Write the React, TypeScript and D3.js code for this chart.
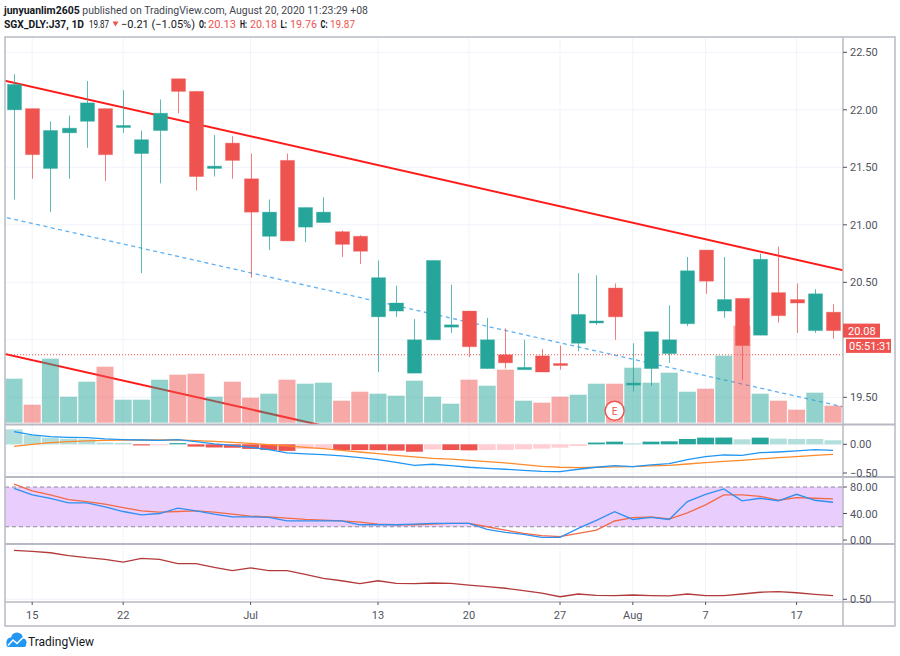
import React from 'react';
import * as d3 from 'd3';

// ---------- DATA ----------
const dates = [
  '2020-06-12', '2020-06-15', '2020-06-16', '2020-06-17', '2020-06-18', '2020-06-19',
  '2020-06-22', '2020-06-23', '2020-06-24', '2020-06-25', '2020-06-26', '2020-06-29',
  '2020-06-30', '2020-07-01', '2020-07-02', '2020-07-03', '2020-07-06', '2020-07-07',
  '2020-07-08', '2020-07-09', '2020-07-13', '2020-07-14', '2020-07-15', '2020-07-16',
  '2020-07-17', '2020-07-20', '2020-07-21', '2020-07-22', '2020-07-23', '2020-07-24',
  '2020-07-27', '2020-07-28', '2020-07-29', '2020-07-30', '2020-08-03', '2020-08-04',
  '2020-08-05', '2020-08-06', '2020-08-07', '2020-08-11', '2020-08-12', '2020-08-13',
  '2020-08-14', '2020-08-17', '2020-08-18', '2020-08-19',
];
const opens = [22.00, 22.01, 21.49, 21.80, 21.90, 22.01, 21.85, 21.62, 21.82, 22.27, 22.16, 21.49, 21.71, 21.40, 20.90, 21.56, 20.98, 21.02, 20.94, 20.90, 20.20, 20.25, 19.71, 20.00, 20.11, 20.25, 19.75, 19.87, 19.74, 19.86, 19.79, 19.97, 20.15, 20.45, 19.61, 19.75, 19.88, 20.14, 20.78, 20.25, 20.36, 20.04, 20.41, 20.35, 20.08, 20.24];
const highs = [22.31, 22.01, 21.90, 21.95, 22.25, 22.01, 22.17, 21.82, 22.09, 22.27, 22.16, 21.78, 21.77, 21.62, 21.22, 21.62, 21.15, 21.24, 20.95, 20.91, 20.69, 20.47, 20.18, 20.69, 20.48, 20.25, 20.19, 20.10, 20.00, 19.92, 19.95, 20.58, 20.56, 20.49, 19.97, 20.07, 20.30, 20.72, 20.78, 20.72, 20.36, 20.75, 20.81, 20.49, 20.44, 20.31];
const lows = [21.22, 21.40, 21.11, 21.40, 21.67, 21.38, 21.80, 20.58, 21.36, 21.97, 21.30, 21.42, 21.40, 20.54, 20.78, 20.86, 20.85, 21.02, 20.72, 20.66, 19.72, 20.20, 19.71, 20.00, 20.06, 19.85, 19.75, 19.75, 19.74, 19.72, 19.74, 19.90, 20.13, 20.00, 19.55, 19.60, 19.80, 20.12, 20.40, 20.19, 19.65, 20.04, 20.15, 20.06, 20.06, 20.01];
const closes = [22.22, 21.61, 21.82, 21.84, 22.06, 21.61, 21.86, 21.74, 21.97, 22.16, 21.42, 21.51, 21.56, 21.11, 21.11, 20.86, 21.15, 21.11, 20.83, 20.77, 20.54, 20.32, 20.00, 20.69, 20.13, 19.94, 20.00, 19.80, 19.76, 19.72, 19.78, 20.22, 20.16, 20.20, 19.62, 20.07, 20.00, 20.60, 20.51, 20.35, 19.95, 20.70, 20.21, 20.32, 20.40, 20.08];
const volumes = [4.4, 1.8, 6.4, 2.6, 4.1, 5.6, 2.3, 2.3, 4.3, 4.8, 4.9, 2.6, 4.1, 2.5, 2.9, 4.3, 3.9, 4.0, 2.2, 3.1, 2.9, 2.7, 4.2, 2.6, 1.9, 4.3, 3.7, 5.3, 2.2, 2.0, 2.6, 2.8, 3.9, 3.9, 5.5, 4.0, 5.0, 3.1, 3.4, 6.7, 9.7, 2.9, 2.2, 1.3, 3.0, 1.7];

const macdHist = [0.26, 0.16, 0.115, 0.098, 0.087, 0.03, 0.025, -0.02, -0.015, 0.02, -0.04, -0.055, -0.06, -0.08, -0.1, -0.115, -0.08, -0.075, -0.1, -0.101, -0.102, -0.11, -0.13, -0.09, -0.1, -0.105, -0.1, -0.098, -0.087, -0.075, -0.058, -0.03, 0.03, 0.046, 0.017, 0.046, 0.052, 0.093, 0.116, 0.118, 0.087, 0.116, 0.099, 0.093, 0.092, 0.07];
const macdLine = [0.22, 0.163, 0.134, 0.122, 0.116, 0.093, 0.081, 0.075, 0.07, 0.081, 0.046, 0.006, -0.017, -0.052, -0.093, -0.151, -0.168, -0.18, -0.203, -0.232, -0.267, -0.314, -0.366, -0.348, -0.372, -0.4, -0.418, -0.435, -0.453, -0.47, -0.476, -0.435, -0.4, -0.372, -0.389, -0.36, -0.337, -0.267, -0.215, -0.186, -0.192, -0.145, -0.134, -0.116, -0.093, -0.105];
const signalLine = [-0.035, 0, 0.029, 0.046, 0.058, 0.07, 0.075, 0.075, 0.075, 0.075, 0.064, 0.052, 0.035, 0.017, -0.006, -0.029, -0.052, -0.075, -0.105, -0.134, -0.163, -0.192, -0.22, -0.244, -0.26, -0.279, -0.302, -0.325, -0.354, -0.383, -0.4, -0.406, -0.4, -0.395, -0.389, -0.377, -0.366, -0.343, -0.32, -0.296, -0.279, -0.255, -0.232, -0.215, -0.192, -0.174];

const stochK = [78, 68, 63, 56, 56, 50, 43, 38, 40, 48, 44, 39, 35, 35, 34, 29, 29, 29, 29, 23, 23, 23, 24, 25, 25, 25, 16, 11.6, 8.6, 4, 4, 17.6, 29.7, 42.8, 31, 34, 31, 58, 69, 77, 59, 63, 59, 69, 60, 57];
const stochD = [84.5, 74, 68, 61, 58, 54, 49, 44, 42, 43, 44, 42, 39, 36, 35, 33, 31, 30, 29, 27, 24, 23, 23, 24, 25, 25, 20, 15, 10, 6.5, 5, 10, 15, 28.7, 33.7, 35, 31.7, 41, 53, 68, 68, 66, 60, 64, 63, 62];

const ratioLine = [0.806, 0.8, 0.791, 0.773, 0.76, 0.75, 0.733, 0.756, 0.75, 0.723, 0.723, 0.7, 0.679, 0.696, 0.679, 0.679, 0.656, 0.631, 0.616, 0.598, 0.616, 0.6, 0.598, 0.602, 0.6, 0.589, 0.579, 0.569, 0.554, 0.538, 0.516, 0.533, 0.525, 0.523, 0.527, 0.523, 0.521, 0.533, 0.523, 0.523, 0.533, 0.544, 0.548, 0.541, 0.531, 0.523];

const priceTicks = [19.5, 20.0, 20.5, 21.0, 21.5, 22.0, 22.5];
const macdTicks = [0, -0.5];
const stochTicks = [80, 40, 0];
const stochBands = [80, 20];
const ratioTicks = [0.5];
const timeTickDates = ['2020-06-15', '2020-06-22', '2020-07-01', '2020-07-13', '2020-07-20', '2020-07-27', '2020-08-03', '2020-08-07', '2020-08-17'];
const timeTickLabels = ['15', '22', 'Jul', '13', '20', '27', 'Aug', '7', '17'];

// trend line anchors: [bar index, price]
const upperTrend = [[-0.4, 22.25], [45.48, 20.607]];
const lowerTrend = [[-0.44, 19.874], [16.26, 19.279]];
const dashedTrend = [[-0.4, 21.062], [45.48, 19.42]];
const priceLine = 19.87;
const earningsIndex = 33;

// ---------- LAYOUT ----------
const W = 900, H = 656;
const L = 5, R = 843, FR = 895;
const mainTop = 37, mainBot = 424.5, macdBot = 477, rsiBot = 544, axisTop = 602, frameBot = 626;
const UP = '#26a69a', DOWN = '#ef5350';
const FONT = "'Trebuchet MS', Roboto, 'Noto Sans', Arial, sans-serif";
const AXIS_TXT = '#50535e';
const GRID = '#f0f3fa';
const BORDER = '#b7bac2';

const fmt = (v: number) => d3.format('.2f')(v).replace('-', '\u2212');

export default function App() {
  const n = dates.length;
  const x = d3.scaleLinear().domain([0, n - 1]).range([14, 833]);
  const y = d3.scaleLinear().domain([19.5, 22.5]).range([397.3, 52.3]);
  const yVol = d3.scaleLinear().domain([0, 10]).range([422.7, 322.7]);
  const yMacd = d3.scaleLinear().domain([-0.5, 0]).range([473, 444.3]);
  const yStoch = d3.scaleLinear().domain([0, 80]).range([540, 487]);
  const yRatio = d3.scaleLinear().domain([0.5, 0.8]).range([599.3, 551.3]);

  const idx = d3.range(n);
  const lineGen = (ys: d3.ScaleLinear<number, number>, vals: number[]) =>
    d3.line<number>().x((i) => x(i)).y((i) => ys(vals[i]))(idx) || '';

  const extend = (pts: number[][]) => {
    const [[i0, p0], [i1, p1]] = pts;
    const s = (p1 - p0) / (i1 - i0);
    const a = -2, b = n + 2;
    return { x1: x(a), y1: y(p0 + s * (a - i0)), x2: x(b), y2: y(p0 + s * (b - i0)) };
  };

  const bodyW = 14;
  const volW = 17;
  const lastClose = closes[n - 1];
  const lastY = y(lastClose);

  const histColor = (i: number) => {
    const v = macdHist[i];
    const prev = i > 0 ? macdHist[i - 1] : (v >= 0 ? Infinity : -Infinity);
    if (v >= 0) return prev < v ? '#26a69a' : '#b2dfdb';
    return prev < v ? '#ffcdd2' : '#ef5350';
  };

  const up = (i: number) => closes[i] >= opens[i];
  const timeX = timeTickDates.map((d) => x(dates.indexOf(d)));
  // price-axis labels hidden under the last-price / countdown boxes
  const visiblePriceTicks = priceTicks.filter((p) => Math.abs(y(p) - (lastY + 8)) > 16);

  const hdr = { fontSize: 11, lengthAdjust: 'spacingAndGlyphs' as const };

  return (
    <svg width={W} height={H} viewBox={`0 0 ${W} ${H}`}
      style={{ position: 'absolute', left: 0, top: 0, background: '#fff', fontFamily: FONT }}>
      <defs>
        <clipPath id="clipMain"><rect x={L} y={mainTop} width={R - L} height={mainBot - mainTop} /></clipPath>
        <clipPath id="clipMacd"><rect x={L} y={mainBot} width={R - L} height={macdBot - mainBot} /></clipPath>
        <clipPath id="clipRsi"><rect x={L} y={macdBot} width={R - L} height={rsiBot - macdBot} /></clipPath>
        <clipPath id="clipRatio"><rect x={L} y={rsiBot} width={R - L} height={axisTop - rsiBot} /></clipPath>
      </defs>
      <rect x={0} y={0} width={W} height={H} fill="#fff" />

      {/* Header */}
      <text x={4} y={14} fontSize={11.5} fill="#131722" textLength={364} lengthAdjust="spacingAndGlyphs">
        <tspan fontWeight="bold">junyuanlim2605</tspan>
        <tspan fill="#434651"> published on TradingView.com, August 20, 2020 11:23:29 +08</tspan>
      </text>
      <g>
        <text x={4} y={27.5} {...hdr} fontWeight="bold" fill="#131722" textLength={80}>SGX_DLY:J37, 1D</text>
        <text x={89} y={27.5} {...hdr} fill="#131722" textLength={20}>19.87</text>
        <path d="M112.5,21.5 L118.5,21.5 L115.5,26.5 Z" fill={DOWN} />
        <text x={121} y={27.5} {...hdr} fill="#131722" textLength={74}>{'\u22120.21 (\u22121.05%)'}</text>
        <text x={199} y={27.5} {...hdr} fontWeight="bold" fill="#131722" textLength={7}>O:</text>
        <text x={208} y={27.5} {...hdr} fill={DOWN} textLength={28}>20.13</text>
        <text x={240} y={27.5} {...hdr} fontWeight="bold" fill="#131722" textLength={7}>H:</text>
        <text x={250} y={27.5} {...hdr} fill={DOWN} textLength={27}>20.18</text>
        <text x={280.5} y={27.5} {...hdr} fontWeight="bold" fill="#131722" textLength={6.5}>L:</text>
        <text x={290} y={27.5} {...hdr} fill={DOWN} textLength={27}>19.76</text>
        <text x={320.5} y={27.5} {...hdr} fontWeight="bold" fill="#131722" textLength={7}>C:</text>
        <text x={330} y={27.5} {...hdr} fill={DOWN} textLength={25}>19.87</text>
      </g>

      {/* Grid */}
      <g stroke={GRID} strokeWidth={1}>
        {timeX.map((tx, k) => (
          <line key={'vg' + k} x1={tx} x2={tx} y1={mainTop} y2={axisTop} />
        ))}
        {priceTicks.map((p) => (
          <line key={'hg' + p} x1={L} x2={R} y1={y(p)} y2={y(p)} />
        ))}
        {macdTicks.map((p) => (
          <line key={'mg' + p} x1={L} x2={R} y1={yMacd(p)} y2={yMacd(p)} />
        ))}
        {ratioTicks.map((p) => (
          <line key={'rg' + p} x1={L} x2={R} y1={yRatio(p)} y2={yRatio(p)} />
        ))}
      </g>

      {/* Main pane */}
      <g clipPath="url(#clipMain)">
        {[upperTrend, lowerTrend].map((t, k) => {
          const e = extend(t);
          return <line key={'tl' + k} {...e} stroke="#ff1a1a" strokeWidth={2} />;
        })}
        {(() => {
          const e = extend(dashedTrend);
          return <line {...e} stroke="#5fb0f4" strokeWidth={1.3} strokeDasharray="4,3.5" />;
        })()}
        <line x1={L} x2={R} y1={y(priceLine)} y2={y(priceLine)} stroke={DOWN} strokeWidth={1} strokeDasharray="1,2" />

        {idx.map((i) => (
          <rect key={'v' + i} x={x(i) - volW / 2} y={yVol(volumes[i])} width={volW}
            height={yVol(0) - yVol(volumes[i])} fill={up(i) ? UP : DOWN} fillOpacity={0.5} />
        ))}

        {idx.map((i) => {
          const c = up(i) ? UP : DOWN;
          const top = y(Math.max(opens[i], closes[i]));
          const bot = y(Math.min(opens[i], closes[i]));
          const h = Math.max(2, bot - top);
          const cx = Math.round(x(i)) + 0.5;
          return (
            <g key={'c' + i}>
              <line x1={cx} x2={cx} y1={y(highs[i])} y2={y(lows[i])} stroke={c} strokeWidth={1} strokeOpacity={0.75} />
              <rect x={cx - bodyW / 2} y={top - (h - (bot - top)) / 2} width={bodyW} height={h} fill={c}
                stroke={c} strokeOpacity={0.35} strokeWidth={1} />
            </g>
          );
        })}

        <circle cx={x(earningsIndex)} cy={mainBot - 13.8} r={9.5} fill="#fff" stroke={DOWN} strokeWidth={1.5} />
        <text x={x(earningsIndex)} y={mainBot - 10} fontSize={10} fill={DOWN} textAnchor="middle">E</text>
      </g>

      {/* MACD pane */}
      <g clipPath="url(#clipMacd)">
        {idx.map((i) => {
          const v = macdHist[i];
          const y0 = yMacd(0);
          const y1 = yMacd(v);
          return (
            <rect key={'h' + i} x={x(i) - volW / 2} y={Math.min(y0, y1)} width={volW}
              height={Math.max(1, Math.abs(y1 - y0))} fill={histColor(i)} />
          );
        })}
        <path d={lineGen(yMacd, signalLine)} fill="none" stroke="#ff8a2b" strokeWidth={1.3} />
        <path d={lineGen(yMacd, macdLine)} fill="none" stroke="#2196f3" strokeWidth={1.3} />
      </g>

      {/* Stoch RSI pane */}
      <g clipPath="url(#clipRsi)">
        <rect x={L} y={yStoch(stochBands[0])} width={R - L} height={yStoch(stochBands[1]) - yStoch(stochBands[0])} fill="#e9cdfc" />
        {stochBands.map((b) => (
          <line key={'sb' + b} x1={L} x2={R} y1={yStoch(b)} y2={yStoch(b)} stroke="#8a8d96" strokeWidth={1} strokeDasharray="4,3" />
        ))}
        <path d={lineGen(yStoch, stochD)} fill="none" stroke="#f26b46" strokeWidth={1.3} />
        <path d={lineGen(yStoch, stochK)} fill="none" stroke="#2f8ff2" strokeWidth={1.3} />
      </g>

      {/* Ratio pane */}
      <g clipPath="url(#clipRatio)">
        <path d={lineGen(yRatio, ratioLine)} fill="none" stroke="#b23a3a" strokeWidth={1.3} />
      </g>

      {/* Pane borders */}
      <g stroke={BORDER} fill="none">
        <line x1={L} x2={FR} y1={mainBot} y2={mainBot} strokeWidth={2} />
        <line x1={L} x2={FR} y1={macdBot} y2={macdBot} strokeWidth={2} />
        <line x1={L} x2={FR} y1={rsiBot} y2={rsiBot} strokeWidth={2} />
        <line x1={L} x2={FR} y1={axisTop} y2={axisTop} strokeWidth={1.5} />
        <line x1={R} x2={R} y1={mainTop} y2={frameBot} strokeWidth={1.5} />
        <rect x={L} y={mainTop} width={FR - L} height={frameBot - mainTop} strokeWidth={1.5} />
      </g>

      {/* Price axis */}
      <g fontSize={11} fill={AXIS_TXT}>
        {visiblePriceTicks.map((p) => (
          <g key={'pt' + p}>
            <line x1={R} x2={R + 4} y1={y(p)} y2={y(p)} stroke={AXIS_TXT} />
            <text x={R + 7} y={y(p) + 4}>{fmt(p)}</text>
          </g>
        ))}
        {macdTicks.map((p) => (
          <g key={'mt' + p}>
            <line x1={R} x2={R + 4} y1={yMacd(p)} y2={yMacd(p)} stroke={AXIS_TXT} />
            <text x={R + 7} y={yMacd(p) + 4}>{fmt(p)}</text>
          </g>
        ))}
        {stochTicks.map((p) => (
          <g key={'st' + p}>
            <line x1={R} x2={R + 4} y1={yStoch(p)} y2={yStoch(p)} stroke={AXIS_TXT} />
            <text x={R + 7} y={yStoch(p) + 4}>{fmt(p)}</text>
          </g>
        ))}
        {ratioTicks.map((p) => (
          <g key={'rt' + p}>
            <line x1={R} x2={R + 4} y1={yRatio(p)} y2={yRatio(p)} stroke={AXIS_TXT} />
            <text x={R + 7} y={yRatio(p) + 4}>{fmt(p)}</text>
          </g>
        ))}
      </g>

      {/* Last price labels */}
      <rect x={R} y={lastY - 7} width={37} height={14} fill={DOWN} />
      <text x={R + 5} y={lastY + 4} fontSize={11} fill="#fff">{fmt(lastClose)}</text>
      <rect x={R + 3} y={lastY + 8.3} width={45} height={14} fill={DOWN} />
      <text x={R + 6} y={lastY + 19.3} fontSize={11} fill="#fff">05:51:31</text>

      {/* Time axis */}
      <g fontSize={11} fill={AXIS_TXT} textAnchor="middle">
        {timeX.map((tx, k) => (
          <g key={'tt' + k}>
            <line x1={tx} x2={tx} y1={axisTop} y2={axisTop + 3} stroke={AXIS_TXT} />
            <text x={tx} y={619}>{timeTickLabels[k]}</text>
          </g>
        ))}
      </g>

      {/* TradingView logo */}
      <g>
        <circle cx={11} cy={642} r={4.5} fill="#2196f3" />
        <circle cx={17} cy={638.5} r={6} fill="#2196f3" />
        <circle cx={22.5} cy={642.5} r={4} fill="#2196f3" />
        <rect x={6.5} y={641} width={19.5} height={6} rx={2} fill="#2196f3" />
        <polyline points="8,645.5 13,640 17,643.5 23,637.5" fill="none" stroke="#fff" strokeWidth={1.5} />
        <text x={28} y={646} fontSize={12} fill="#131722">TradingView</text>
      </g>
    </svg>
  );
}
